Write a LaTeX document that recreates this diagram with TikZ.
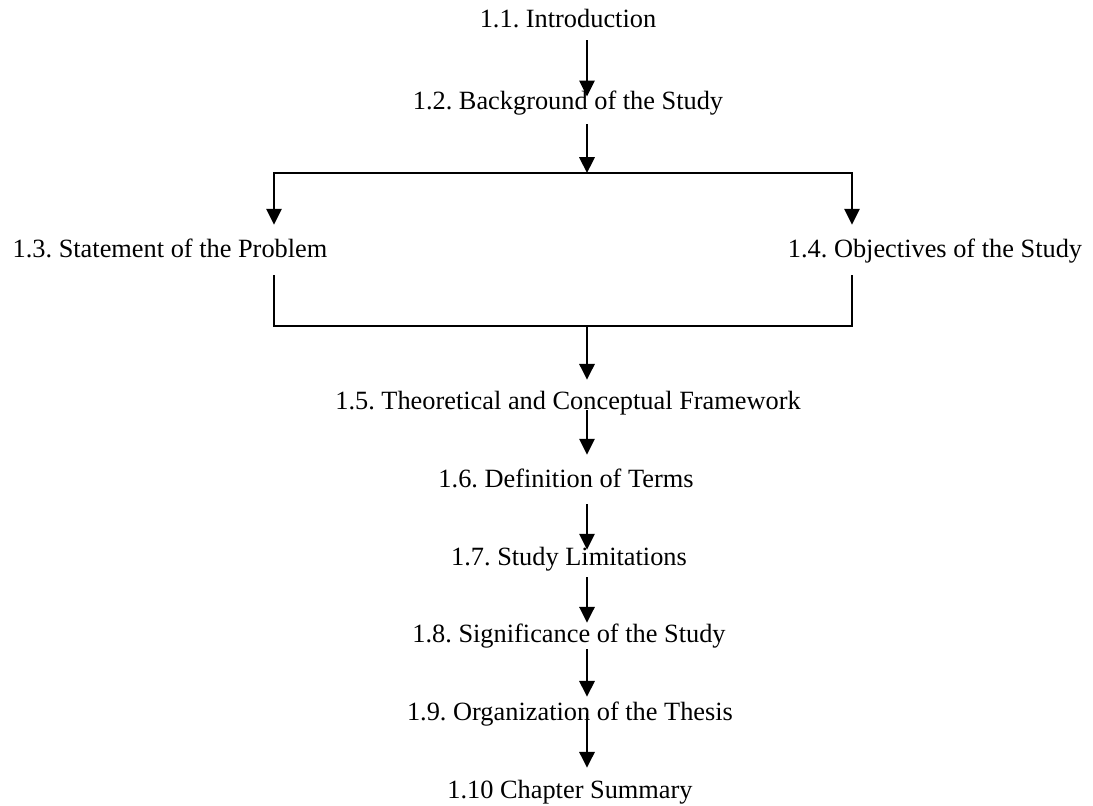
\documentclass[tikz,border=0pt]{standalone}
\usepackage{fontspec}
\setmainfont{Liberation Serif}
\usetikzlibrary{arrows.meta, calc, positioning}
\frenchspacing

\begin{document}
\begin{tikzpicture}[x=0.016cm, y=-0.016cm,
  sec/.style = {inner sep=0pt, text height=8pt, text depth=2.5pt, anchor=base, font=\fontsize{12}{14}\selectfont},
  arr/.style = {-{Triangle[length=7.2pt,width=7pt]}, line width=0.9pt},
  ln/.style = {line width=0.9pt}]
\useasboundingbox (0,0) rectangle (1093,806);

\node[sec] (1) at (568,28) {1.1. Introduction};
\node[sec] (2) at (568,110) {1.2. Background of the Study};
\node[sec] (3) at (170,258) {1.3. Statement of the Problem};
\node[sec] (4) at (935,258) {1.4. Objectives of the Study};
\node[sec] (5) at (568,410) {1.5. Theoretical and Conceptual Framework};
\node[sec] (6) at (566,488) {1.6. Definition of Terms};
\node[sec] (7) at (569,565) {1.7. Study Limitations};
\node[sec] (8) at (569,642) {1.8. Significance of the Study};
\node[sec] (9) at (570,720) {1.9. Organization of the Thesis};
\node[sec] (10) at (570,798) {1.10 Chapter Summary};

\coordinate (spine) at (587,0);
\coordinate (lcol) at (274,0);
\coordinate (rcol) at (852,0);
\coordinate (split) at (587,173);
\coordinate (merge) at (587,326);

\draw[arr, shorten <=2.9pt, shorten >=-2pt] (1.south -| spine) -- (2.north -| spine);
\draw[arr, shorten <=3.9pt] (2.south -| spine) -- (split);
\draw[arr, shorten >=7pt] (split) -| (3.north -| lcol);
\draw[arr, shorten >=7pt] (split) -| (4.north -| rcol);
\draw[ln, shorten <=5.2pt] (3.south -| lcol) |- (merge);
\draw[ln, shorten <=5.2pt] (4.south -| rcol) |- (merge);
\draw[arr, shorten >=5.6pt] (merge) -- (5.north -| spine);
\draw[arr, shorten <=-2.5pt, shorten >=7pt] (5.south -| spine) -- (6.north -| spine);
\draw[arr, shorten <=4.8pt, shorten >=-1.2pt] (6.south -| spine) -- (7.north -| spine);
\draw[arr, shorten <=2.9pt, shorten >=0.6pt] (7.south -| spine) -- (8.north -| spine);
\draw[arr, shorten <=0.7pt, shorten >=2.4pt] (8.south -| spine) -- (9.north -| spine);
\draw[arr, shorten <=-5.7pt, shorten >=5.6pt] (9.south -| spine) -- (10.north -| spine);
\end{tikzpicture}
\end{document}
